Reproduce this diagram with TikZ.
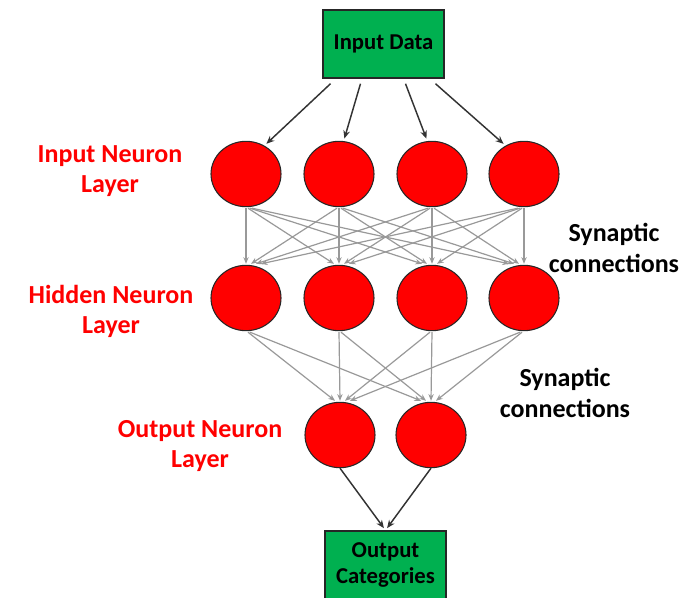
\documentclass[tikz,border=0pt]{standalone}
\usepackage{fontspec}
\setmainfont{Carlito}
\usetikzlibrary{shapes.geometric}
\usetikzlibrary{arrows.meta}
\usetikzlibrary{calc}
\definecolor{boxgreen}{RGB}{0,176,80}

\begin{document}
\begin{tikzpicture}[x=0.75pt,y=-0.75pt,
  neuron/.style={ellipse,draw=black!85,line width=0.8pt,fill=red,minimum width=52.5pt,minimum height=49pt,inner sep=0pt},
  databox/.style={rectangle,draw=black!85,line width=1.1pt,fill=boxgreen,minimum width=90.75pt,minimum height=51pt,align=center,font=\fontsize{17}{20}\selectfont\bfseries},
  layerlabel/.style={align=center,text=red,font=\fontsize{19.5}{22.5}\selectfont\bfseries},
  synlabel/.style={align=center,font=\fontsize{19.5}{23}\selectfont\bfseries},
  feed/.style={-{Stealth[length=6pt,width=5pt]},draw=black!80,line width=1.1pt,shorten >=2pt},
  synapse/.style={-{Stealth[length=5pt,width=4pt]},draw=black!40,line width=0.9pt}]
\useasboundingbox (0,0) rectangle (685,598);
\node[databox] (data) at (383.5,44){Input Data};
\foreach \i/\x in {1/246,2/339,3/432,4/524}{
  \node[neuron] (in\i) at (\x,174){};
  \node[neuron] (hid\i) at (\x,298){};
}
\node[neuron] (out1) at (340,435){};
\node[neuron] (out2) at (431,435){};
\node[databox] (cat) at (385.5,565){Output\\Categories};
\node[layerlabel] (inlbl) at (110,171){Input Neuron\\Layer};
\node[layerlabel] (hidlbl) at (111,311){Hidden Neuron\\Layer};
\node[layerlabel] (outlbl) at (200,446){Output Neuron\\Layer};
\node[synlabel] (syn1) at (614,248){Synaptic\\connections};
\node[synlabel] (syn2) at (565,393){Synaptic\\connections};
% input data to the first layer
\draw[feed] ($(data.south)+(-53,5)$) -- (in1.57);
\draw[feed] ($(data.south)+(-23,5)$) -- (in2.82);
\draw[feed] ($(data.south)+(22,5)$) -- (in3.98);
\draw[feed] ($(data.south)+(52,5)$) -- (in4.123);
% synapses
\foreach \i in {1,...,4}
  \foreach \j in {1,...,4}
    \draw[synapse] ($(in\i.south)+({2*(\j-\i)},1)$) -- ($(hid\j.north)+({5*(\i-\j)},-1)$);
\foreach \i in {1,...,4}{
  \draw[synapse] ($(hid\i.south)+({2*(2-\i)},1)$) -- ($(out1.north)+({5*(\i-2)},-1)$);
  \draw[synapse] ($(hid\i.south)+({2*(3-\i)},1)$) -- ($(out2.north)+({5*(\i-3)},-1)$);
}
\draw[feed] (out1.south) -- (cat.north);
\draw[feed] (out2.south) -- (cat.north);
\end{tikzpicture}
\end{document}
